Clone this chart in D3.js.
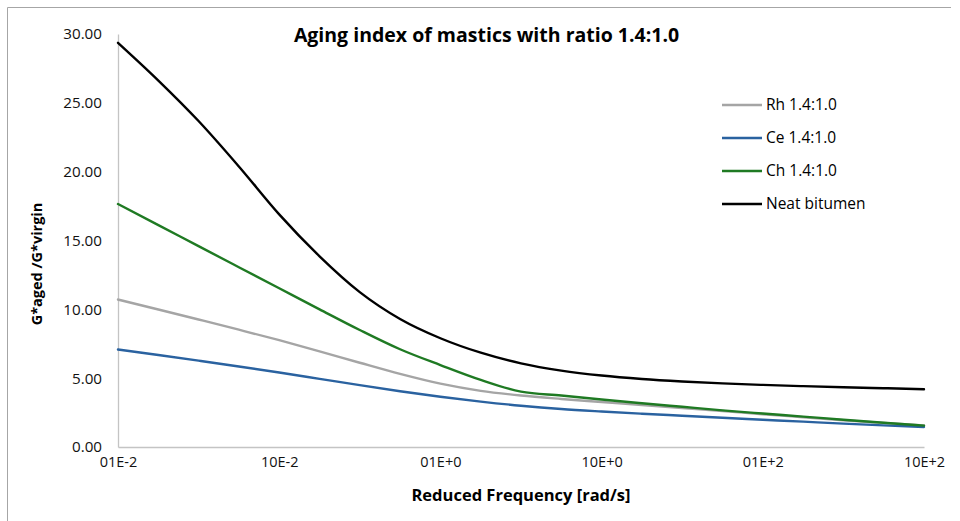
<!DOCTYPE html>
<html>
<head>
<meta charset="utf-8">
<script src="https://cdn.jsdelivr.net/npm/d3@7"></script>
<style>
  html, body { margin: 0; padding: 0; background: #fff; }
  svg { display: block; font-family: "Open Sans", Lato, sans-serif; }
</style>
</head>
<body>
<svg id="chart" width="960" height="521"></svg>
<script>
// Reduced frequency grid (rad/s), quarter-decade steps from 0.01 to 1000
const frequencies = [0.01, 0.0178, 0.0316, 0.0562, 0.1, 0.178, 0.316, 0.562, 1, 1.78, 3.16, 5.62,
  10, 17.8, 31.6, 56.2, 100, 178, 316, 562, 1000];

// Aging index G*aged / G*virgin for each material
const rhValues = [10.71, 9.99, 9.26, 8.52, 7.76, 6.95, 6.12, 5.31, 4.60, 4.08, 3.74, 3.49,
  3.27, 3.05, 2.83, 2.61, 2.38, 2.16, 1.94, 1.75, 1.56];
const ceValues = [7.08, 6.68, 6.27, 5.85, 5.41, 4.95, 4.49, 4.05, 3.65, 3.30, 3.00, 2.76,
  2.58, 2.42, 2.27, 2.12, 1.98, 1.84, 1.70, 1.57, 1.45];
const chValues = [17.65, 16.12, 14.59, 13.06, 11.53, 10.00, 8.50, 7.10, 5.95, 4.87, 4.02, 3.74,
  3.45, 3.18, 2.92, 2.66, 2.43, 2.21, 1.98, 1.76, 1.55];
const neatValues = [29.36, 26.62, 23.68, 20.38, 16.90, 13.85, 11.25, 9.30, 7.90, 6.85, 6.08, 5.55,
  5.19, 4.94, 4.76, 4.62, 4.51, 4.42, 4.34, 4.27, 4.19];

const seriesNames = ["Rh 1.4:1.0", "Ce 1.4:1.0", "Ch 1.4:1.0", "Neat bitumen"];
const seriesColors = ["#a5a5a5", "#2a62a0", "#1f7a23", "#000000"];
const seriesValues = [rhValues, ceValues, chValues, neatValues];

const xTickValues = [0.01, 0.1, 1, 10, 100, 1000];
const xTickLabels = ["01E-2", "10E-2", "01E+0", "10E+0", "01E+2", "10E+2"];
const yTickValues = [0, 5, 10, 15, 20, 25, 30];

const titleText = "Aging index of mastics with ratio 1.4:1.0";
const xTitle = "Reduced Frequency [rad/s]";
const yTitle = "G*aged /G*virgin";

const svg = d3.select("#chart");
const plot = { left: 118, right: 924, top: 34, bottom: 447 };

// Chart-area frame
svg.append("path")
  .attr("d", "M7.5,521 V7.5 H951")
  .attr("fill", "none")
  .attr("stroke", "#a6a6a6")
  .attr("stroke-width", 1);

const x = d3.scaleLog().domain([0.01, 1000]).range([plot.left, plot.right]);
const y = d3.scaleLinear().domain([0, 30]).range([plot.bottom, plot.top]);

// Axes
const xAxis = d3.axisBottom(x)
  .tickValues(xTickValues)
  .tickFormat((d, i) => xTickLabels[i])
  .tickSize(0)
  .tickPadding(10);
const gx = svg.append("g").attr("transform", `translate(0,${plot.bottom})`).call(xAxis);
gx.select(".domain").attr("stroke", "#c4c4c4").attr("stroke-width", 1.3);
gx.selectAll("text").attr("font-size", 14.5).attr("fill", "#111").attr("font-family", "Open Sans");

const yAxis = d3.axisLeft(y)
  .tickValues(yTickValues)
  .tickFormat(d3.format(".2f"))
  .tickSize(0)
  .tickPadding(16);
const gy = svg.append("g").attr("transform", `translate(${plot.left},0)`).call(yAxis);
gy.select(".domain").attr("stroke", "#c4c4c4").attr("stroke-width", 1.3);
gy.selectAll("text").attr("font-size", 15.2).attr("fill", "#111").attr("font-family", "Open Sans");

// Series lines
const line = d3.line()
  .x((d, i) => x(frequencies[i]))
  .y(d => y(d))
  .curve(d3.curveMonotoneX);

// Drawn back to front so the neat bitumen curve sits on top
seriesValues.forEach((values, s) => {
  svg.append("path")
    .datum(values)
    .attr("d", line)
    .attr("fill", "none")
    .attr("stroke", seriesColors[s])
    .attr("stroke-width", 2.4)
    .attr("stroke-linejoin", "round")
    .attr("stroke-linecap", "round");
});

// Title
svg.append("text")
  .attr("x", 486.5)
  .attr("y", 42)
  .attr("text-anchor", "middle")
  .attr("font-size", 19.5)
  .attr("font-weight", "bold")
  .text(titleText);

// Axis titles
svg.append("text")
  .attr("x", (plot.left + plot.right) / 2)
  .attr("y", 501)
  .attr("text-anchor", "middle")
  .attr("font-size", 16.5)
  .attr("font-weight", "bold")
  .text(xTitle);

svg.append("text")
  .attr("transform", "translate(42,264) rotate(-90)")
  .attr("text-anchor", "middle")
  .attr("font-size", 14.5)
  .attr("font-weight", "bold")
  .text(yTitle);

// Legend
const legend = svg.append("g").attr("transform", "translate(722,105)");
seriesNames.forEach((name, i) => {
  const row = legend.append("g").attr("transform", `translate(0,${i * 33})`);
  row.append("line")
    .attr("x1", 0).attr("x2", 40)
    .attr("y1", 0).attr("y2", 0)
    .attr("stroke", seriesColors[i])
    .attr("stroke-width", 2.4);
  row.append("text")
    .attr("x", 44)
    .attr("y", 0)
    .attr("dy", "0.35em")
    .attr("font-size", 15.5)
    .text(name);
});
</script>
</body>
</html>
